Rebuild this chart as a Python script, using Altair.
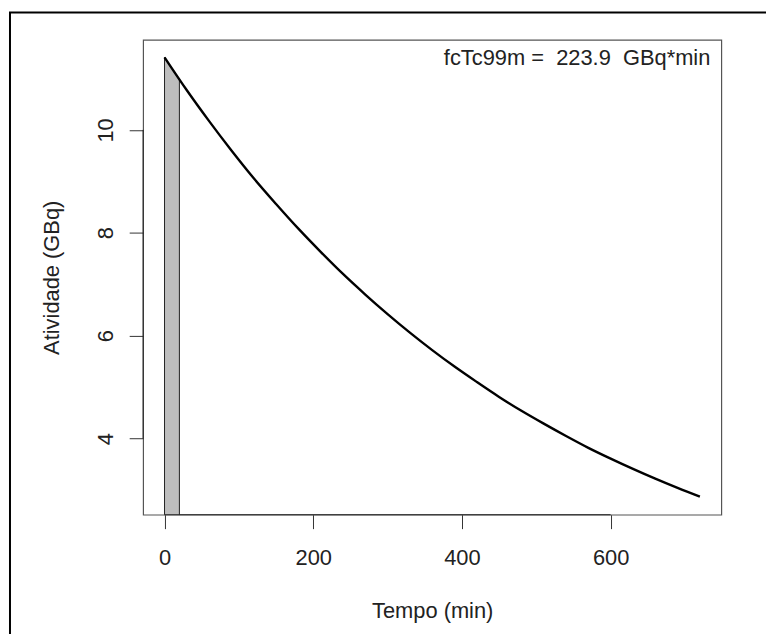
import altair as alt
import pandas as pd

# Activity curve (time in min, activity in GBq)
tempo = [0, 30, 60, 90, 120, 150, 180, 210, 240, 270, 300, 330, 360,
         390, 420, 450, 480, 510, 540, 570, 600, 630, 660, 690, 720]
atividade = [11.41, 10.77, 10.17, 9.60, 9.06, 8.56, 8.08, 7.63, 7.20, 6.80,
             6.42, 6.06, 5.72, 5.40, 5.10, 4.81, 4.54, 4.29, 4.05, 3.82,
             3.61, 3.41, 3.22, 3.04, 2.87]

# Shaded interval (0 to 20 min)
shade_t = [0, 20]
shade_a = [11.41, 10.98]

x_ticks = [0, 200, 400, 600]
y_ticks = [4, 6, 8, 10]
annot = "fcTc99m =\u00a0 223.9\u00a0 GBq*min"

W, H = 582, 478
FONT = "Liberation Sans"
FS = 22

curve_df = pd.DataFrame({"t": tempo, "a": atividade})
shade_df = pd.DataFrame({"t": shade_t, "a": shade_a})

xs = alt.Scale(domain=[-28.8, 748.8], nice=False, zero=False)
ys = alt.Scale(domain=[2.52, 11.75], nice=False, zero=False)

x_axis = alt.Axis(values=x_ticks, title="Tempo (min)", domain=False, grid=False,
                  tickSize=14, tickColor="#333", tickWidth=1,
                  labelFont=FONT, labelFontSize=FS, labelColor="#222",
                  labelBaseline="alphabetic", labelPadding=36,
                  titleFont=FONT, titleFontSize=FS, titleFontWeight="normal",
                  titleColor="#222", titleX=W / 2, titleY=103,
                  titleAlign="center", titleBaseline="alphabetic")
y_axis = alt.Axis(values=y_ticks, title="Atividade (GBq)", domain=False, grid=False,
                  tickSize=14, tickColor="#333", tickWidth=1,
                  labelFont=FONT, labelFontSize=FS, labelColor="#222",
                  labelAngle=270, labelAlign="center", labelBaseline="alphabetic",
                  labelPadding=17,
                  titleFont=FONT, titleFontSize=FS, titleFontWeight="normal",
                  titleColor="#222", titleAngle=270, titleX=-84.7, titleY=H / 2,
                  titleAlign="center", titleBaseline="alphabetic")

shade = alt.Chart(shade_df).mark_area(
    fill="#BEBEBE", stroke="#222", strokeWidth=1, clip=True, opacity=1
).encode(
    x=alt.X("t:Q", scale=xs, axis=x_axis),
    y=alt.Y("a:Q", scale=ys, axis=y_axis),
    y2=alt.datum(0),
)

curve = alt.Chart(curve_df).mark_line(
    color="black", strokeWidth=2.4, interpolate="monotone"
).encode(
    x=alt.X("t:Q", scale=xs),
    y=alt.Y("a:Q", scale=ys),
)

xline = alt.Chart(pd.DataFrame({"a": [0]})).mark_rule(color="#222", strokeWidth=1).encode(
    x=alt.X("x0:Q", scale=xs),
    x2="x1:Q",
    y=alt.value(H),
).transform_calculate(x0=str(x_ticks[0]), x1=str(x_ticks[-1]))

yline = alt.Chart(pd.DataFrame({"a": [0]})).mark_rule(color="#222", strokeWidth=1).encode(
    y=alt.Y("y0:Q", scale=ys),
    y2="y1:Q",
    x=alt.value(0),
).transform_calculate(y0=str(y_ticks[0]), y1=str(y_ticks[-1]))

text = alt.Chart(pd.DataFrame({"label": [annot]})).mark_text(
    align="right", baseline="alphabetic", font=FONT, fontSize=FS, color="#222"
).encode(
    text="label:N",
    x=alt.value(W - 11),
    y=alt.value(25),
)

frame = alt.Chart(pd.DataFrame({"a": [0]})).mark_rect(
    fill="white", fillOpacity=0, stroke="black", strokeWidth=2, clip=False
).encode(
    x=alt.value(-134), x2=alt.value(700),
    y=alt.value(-27.5), y2=alt.value(700),
)

chart = alt.layer(shade, curve, xline, yline, text, frame).properties(
    width=W, height=H,
    autosize=alt.AutoSizeParams(type="none"),
    padding={"left": 136, "top": 30, "right": 45, "bottom": 118},
).configure(
    background="white",
    view=alt.ViewConfig(stroke="#555", strokeWidth=1.2),
)

chart.save("out.html", embed_options={"renderer": "svg", "actions": False})
